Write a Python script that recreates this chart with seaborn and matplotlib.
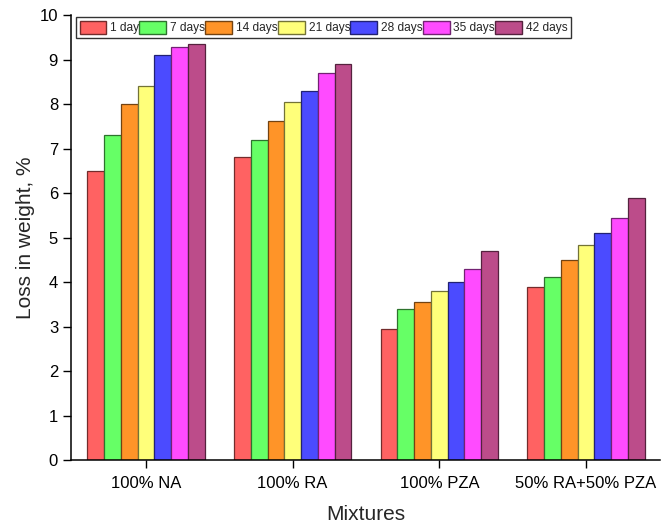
import pandas as pd
import matplotlib.pyplot as plt
import matplotlib.colors as mcolors
import seaborn as sns
import numpy as np

mixtures = ["100% NA", "100% RA", "100% PZA", "50% RA+50% PZA"]
days = ["1 day", "7 days", "14 days", "21 days", "28 days", "35 days", "42 days"]
loss_na = [6.5, 7.3, 8.0, 8.4, 9.1, 9.28, 9.35]
loss_ra = [6.82, 7.2, 7.62, 8.05, 8.3, 8.7, 8.9]
loss_pza = [2.95, 3.4, 3.55, 3.8, 4.0, 4.3, 4.7]
loss_mix = [3.9, 4.12, 4.5, 4.83, 5.1, 5.45, 5.9]
colors = ["#FF6262", "#66FF66", "#FF9428", "#FFFF7A", "#4B4BFF", "#FF4BFF", "#BC4C8A"]

rows = []
for mix, vals in zip(mixtures, [loss_na, loss_ra, loss_pza, loss_mix]):
    for d, v in zip(days, vals):
        rows.append({"Mixture": mix, "Age": d, "Loss": v})
df = pd.DataFrame(rows)

sns.set_style("ticks")
plt.rcParams['font.family'] = ['Liberation Sans', 'DejaVu Sans']

fig = plt.figure(figsize=(6.7, 5.24), dpi=100)
ax = fig.add_axes([0.106, 0.122, 0.879, 0.849])

sns.barplot(data=df, x="Mixture", y="Loss", hue="Age", order=mixtures,
            hue_order=days, palette=colors, width=0.8, saturation=1,
            ax=ax, errorbar=None)

# darker edge per colour
for cont, c in zip(ax.containers, colors):
    edge = np.array(mcolors.to_rgb(c)) * 0.45
    for bar in cont:
        bar.set_edgecolor(edge)
        bar.set_linewidth(0.9)

ax.set_ylim(0, 10)
ax.set_xlim(-0.511, 3.504)
ax.set_yticks(range(0, 11))
ax.tick_params(axis="both", labelsize=12, direction="out", length=5.8, width=1.0,
               colors="black")
ax.tick_params(axis="x", pad=6)
ax.set_xlabel("Mixtures", fontsize=15, labelpad=10)
ax.set_ylabel("Loss in weight, %", fontsize=15, labelpad=3)
for s in ["left", "bottom"]:
    ax.spines[s].set_linewidth(1.1)
    ax.spines[s].set_color("black")
sns.despine(ax=ax)

leg = ax.legend(loc="upper left", ncol=7, fontsize=8.6, frameon=True, fancybox=False,
                edgecolor="black", handlelength=2.25, handleheight=1.3,
                handletextpad=0.33, columnspacing=0.0, borderpad=0.32,
                borderaxespad=0.0, bbox_to_anchor=(0.008, 0.996))
leg.get_frame().set_linewidth(1.0)
for h, c in zip(leg.legend_handles, colors):
    h.set_edgecolor(np.array(mcolors.to_rgb(c)) * 0.45)

fig.savefig("out.png", dpi=100)
